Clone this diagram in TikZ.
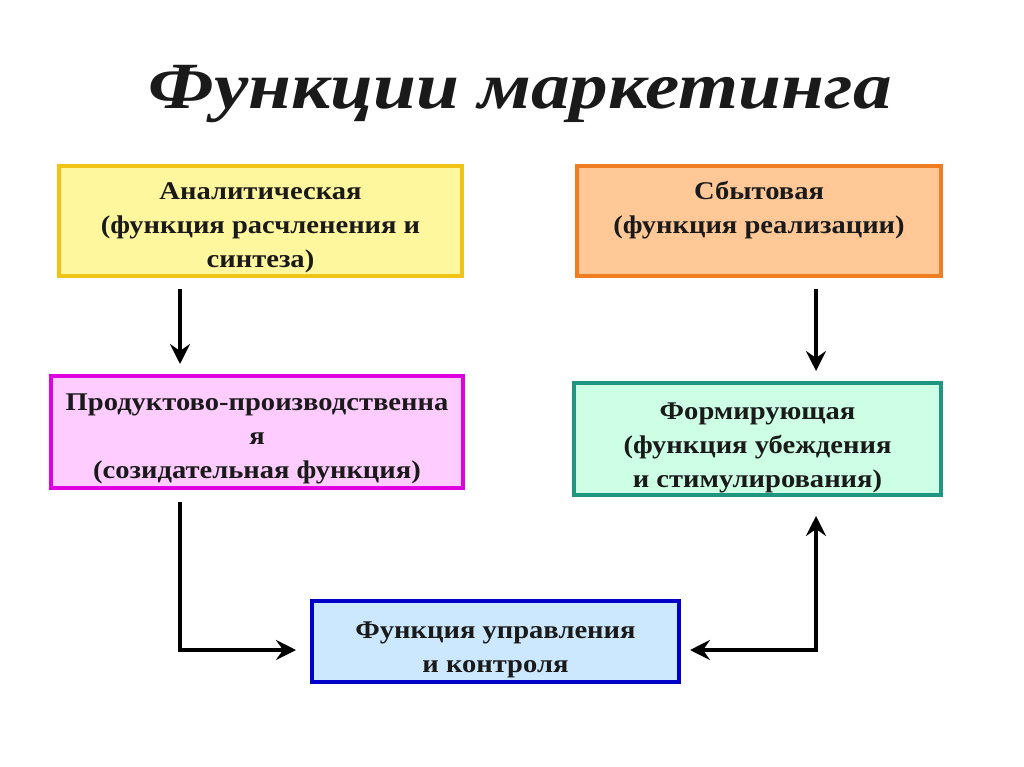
\documentclass[tikz,border=0pt]{standalone}
\usepackage{fontspec}
\setmainfont{Liberation Serif}
\newfontfamily\boxfont[FakeStretch=1.12]{Liberation Serif}
\newfontfamily\titlefont[FakeStretch=1.17]{Liberation Serif}
\usetikzlibrary{arrows.meta,calc}
\definecolor{txt}{HTML}{1A1A1A}
\definecolor{yfill}{HTML}{FFF79E}
\definecolor{ydraw}{HTML}{F0C414}
\definecolor{ofill}{HTML}{FFC896}
\definecolor{odraw}{HTML}{F07D22}
\definecolor{pfill}{HTML}{FFCCFF}
\definecolor{pdraw}{HTML}{E000E0}
\definecolor{gfill}{HTML}{CCFFE4}
\definecolor{gdraw}{HTML}{1E9682}
\definecolor{bfill}{HTML}{CCE8FF}
\definecolor{bdraw}{HTML}{0000C8}
\tikzset{
  fbox/.style={draw, line width=4pt, inner sep=0pt},
  btext/.style={align=center, text=txt, inner sep=0pt,
    font=\boxfont\bfseries\fontsize{25.5}{34}\selectfont},
  tip/.tip={Stealth[length=20pt,width=20pt,inset=7pt]},
  arr/.style={line width=3.5pt, -tip},
  darr/.style={line width=3.5pt, tip-tip}
}
\begin{document}
\begin{tikzpicture}[x=1pt,y=-1pt]
\useasboundingbox (0,0) rectangle (1024,767);
\fill[white] (0,0) rectangle (1024,767);
\node[anchor=base, text=txt, font=\titlefont\bfseries\itshape\fontsize{66}{70}\selectfont] (title) at (520,109) {Функции маркетинга};
\node[fbox, fill=yfill, draw=ydraw, minimum width=403pt, minimum height=110pt,
  label={[btext, yshift=-7pt]center:{Аналитическая\\(функция расчленения и\\синтеза)}}] (A) at (260.5,221) {};
\node[fbox, fill=ofill, draw=odraw, minimum width=364pt, minimum height=110pt,
  label={[btext, yshift=11pt]center:{Сбытовая\\(функция реализации)}}] (B) at (759,221) {};
\node[fbox, fill=pfill, draw=pdraw, minimum width=412pt, minimum height=112pt,
  label={[btext, yshift=-7pt]center:{Продуктово-производственна\\я\\(созидательная функция)}}] (C) at (257,432) {};
\node[fbox, fill=gfill, draw=gdraw, minimum width=367pt, minimum height=112pt,
  label={[btext, yshift=-9pt]center:{Формирующая\\(функция убеждения\\и стимулирования)}}] (D) at (757.5,439) {};
\node[fbox, fill=bfill, draw=bdraw, minimum width=367pt, minimum height=81pt,
  label={[btext, yshift=-8pt]center:{Функция управления\\и контроля}}] (E) at (495.5,641.5) {};
\coordinate (xl) at (180,0);
\coordinate (xr) at (816,0);
\coordinate (ya) at (0,650);
\draw[arr, shorten <=11pt, shorten >=10pt] (xl |- A.south) -- (xl |- C.north);
\draw[arr, shorten <=11pt, shorten >=10pt] (xr |- B.south) -- (xr |- D.north);
\draw[arr, shorten <=12pt, shorten >=14pt] (xl |- C.south) |- (E.west |- ya);
\draw[darr, shorten <=9pt, shorten >=19pt] (E.east |- ya) -| (xr |- D.south);
\end{tikzpicture}
\end{document}
